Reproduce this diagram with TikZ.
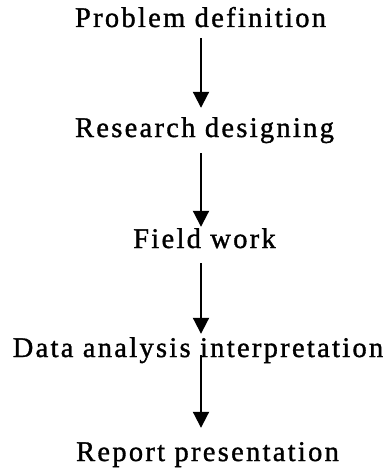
\documentclass[tikz,border=0pt]{standalone}
\usepackage{fontspec}
\setmainfont{Liberation Serif}[LetterSpace=8,FakeBold=1.2]
\usetikzlibrary{arrows.meta}

\begin{document}
\begin{tikzpicture}[x=1pt,y=-1pt,
  stage/.style={anchor=base,inner sep=0pt,text height=19pt,text depth=6pt,
    font=\fontsize{28.5}{34}\selectfont},
  flow/.style={line width=2pt,-{Triangle[length=16pt,width=16pt]}}]
\useasboundingbox (0,0) rectangle (388,471);
\coordinate (axis) at (201,0);
\node [stage] (prob) at (200.5,27) {Problem definition};
\node [stage] (design) at (204.5,137) {Research designing};
\node [stage] (field) at (204.5,248) {Field work};
\node [stage] (analysis) at (198,357) {Data analysis interpretation};
\node [stage] (report) at (207.5,461) {Report presentation};
\draw [flow,shorten <=5pt,shorten >=10pt] (prob.south -| axis) -- (design.north -| axis);
\draw [flow,shorten <=10pt,shorten >=2pt] (design.south -| axis) -- (field.north -| axis);
\draw [flow,shorten <=9pt,shorten >=4pt] (field.south -| axis) -- (analysis.north -| axis);
\draw [flow,shorten <=-8pt,shorten >=14pt] (analysis.south -| axis) -- (report.north -| axis);
\end{tikzpicture}
\end{document}
